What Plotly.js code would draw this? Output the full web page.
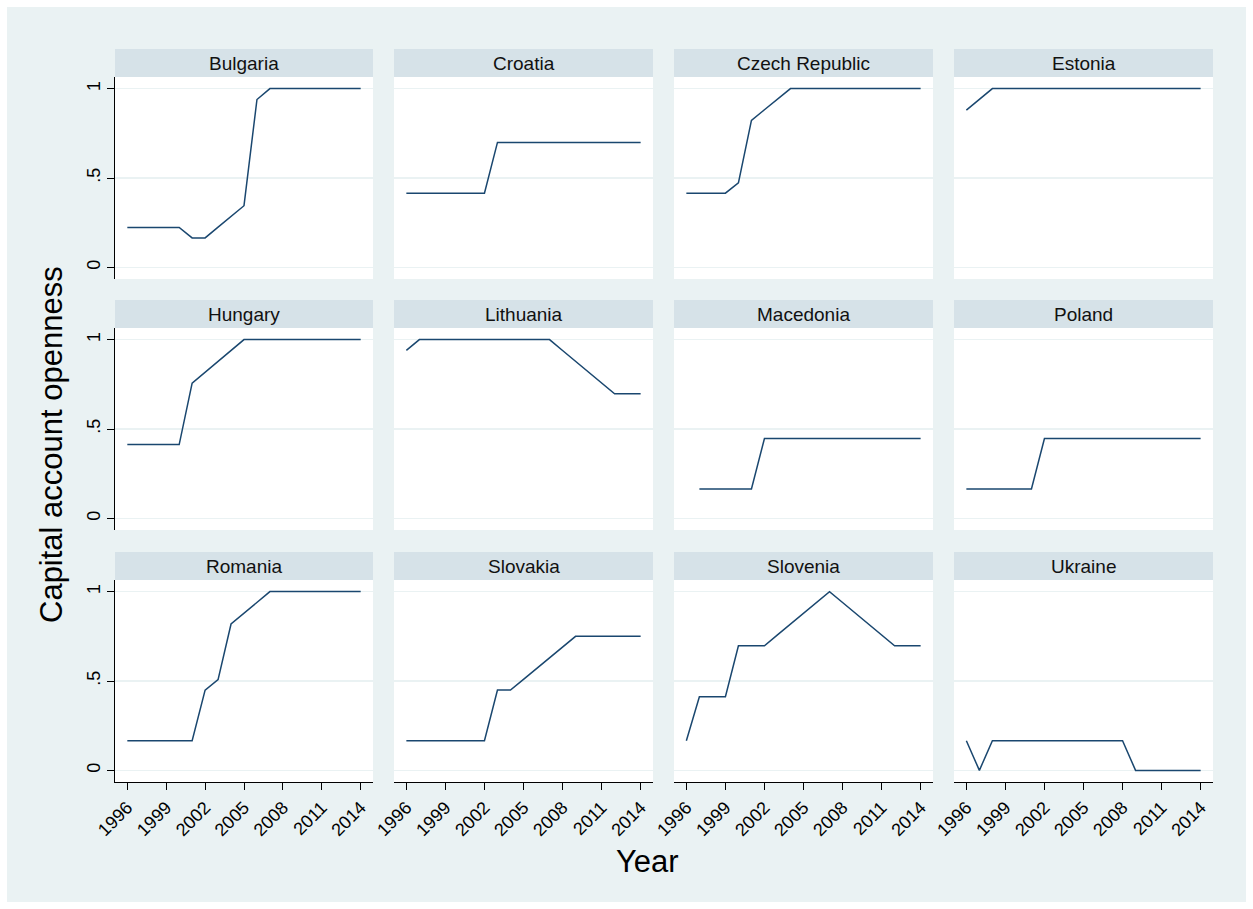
<!DOCTYPE html>
<html><head><meta charset="utf-8">
<script src="https://cdn.plot.ly/plotly-3.0.1.min.js"></script>
<style>html,body{margin:0;padding:0;background:#fff}#chart{width:1253px;height:909px}</style>
</head><body><div id="chart"></div><script>
const years = [1996,1997,1998,1999,2000,2001,2002,2003,2004,2005,2006,2007,2008,2009,2010,2011,2012,2013,2014];
const xTickVals = [1996,1999,2002,2005,2008,2011,2014];
const yTickVals = [0,0.5,1];
const yTickText = ['0','.5','1'];
const countries = ['Bulgaria','Croatia','Czech Republic','Estonia','Hungary','Lithuania','Macedonia','Poland','Romania','Slovakia','Slovenia','Ukraine'];

const bulgaria  = [0.223,0.223,0.223,0.223,0.223,0.165,0.165,0.225,0.285,0.345,0.939,1,1,1,1,1,1,1,1];
const croatia   = [0.415,0.415,0.415,0.415,0.415,0.415,0.415,0.699,0.699,0.699,0.699,0.699,0.699,0.699,0.699,0.699,0.699,0.699,0.699];
const czech     = [0.415,0.415,0.415,0.415,0.473,0.822,0.882,0.941,1,1,1,1,1,1,1,1,1,1,1];
const estonia   = [0.880,0.940,1,1,1,1,1,1,1,1,1,1,1,1,1,1,1,1,1];
const hungary   = [0.413,0.413,0.413,0.413,0.413,0.757,0.818,0.879,0.939,1,1,1,1,1,1,1,1,1,1];
const lithuania = [0.940,1,1,1,1,1,1,1,1,1,1,1,0.939,0.878,0.818,0.757,0.697,0.697,0.697];
const macedonia = [null,0.165,0.165,0.165,0.165,0.165,0.447,0.447,0.447,0.447,0.447,0.447,0.447,0.447,0.447,0.447,0.447,0.447,0.447];
const poland    = [0.165,0.165,0.165,0.165,0.165,0.165,0.447,0.447,0.447,0.447,0.447,0.447,0.447,0.447,0.447,0.447,0.447,0.447,0.447];
const romania   = [0.166,0.166,0.166,0.166,0.166,0.166,0.449,0.508,0.819,0.879,0.940,1,1,1,1,1,1,1,1];
const slovakia  = [0.166,0.166,0.166,0.166,0.166,0.166,0.166,0.449,0.449,0.509,0.570,0.630,0.690,0.750,0.750,0.750,0.750,0.750,0.750];
const slovenia  = [0.166,0.412,0.412,0.412,0.697,0.697,0.697,0.758,0.818,0.879,0.939,1,0.939,0.879,0.818,0.758,0.697,0.697,0.697];
const ukraine   = [0.166,0,0.166,0.166,0.166,0.166,0.166,0.166,0.166,0.166,0.166,0.166,0.166,0,0,0,0,0,0];

const series = [bulgaria,croatia,czech,estonia,hungary,lithuania,macedonia,poland,romania,slovakia,slovenia,ukraine];

const W = 1253, H = 909;
const colX = [[115,373],[394,653],[674,933],[954,1213]];
const rowY = [[77,279],[328,530],[580,782]];
const STRIP = 28;
const FONT = 'Liberation Sans, Arial, Helvetica, sans-serif';

const data = [];
const layout = {
  width: W, height: H,
  margin: {l:0, r:0, t:0, b:0},
  paper_bgcolor: '#eaf2f3',
  plot_bgcolor: '#ffffff',
  showlegend: false,
  font: {family: FONT, color: '#000'},
  shapes: [],
  annotations: []
};

for (let i = 0; i < 12; i++) {
  const r = Math.floor(i / 4), c = i % 4;
  const sfx = i === 0 ? '' : String(i + 1);
  data.push({
    x: years, y: series[i], type: 'scatter', mode: 'lines',
    line: {color: '#1a476f', width: 1.5},
    xaxis: 'x' + sfx, yaxis: 'y' + sfx, connectgaps: false,
    hoverinfo: 'x+y'
  });
  const bottom = r === 2, left = c === 0;
  layout['xaxis' + sfx] = {
    domain: [colX[c][0] / W, colX[c][1] / W],
    anchor: 'y' + sfx,
    range: [1995.05, 2014.95],
    tickvals: xTickVals,
    ticktext: xTickVals.map(String),
    showgrid: false, zeroline: false,
    showline: bottom, linecolor: '#000', linewidth: 1,
    ticks: bottom ? 'outside' : '', ticklen: 7, tickcolor: '#000', tickwidth: 1,
    showticklabels: bottom, tickangle: -45,
    tickfont: {family: FONT, size: 18, color: '#000'},
    fixedrange: true
  };
  layout['yaxis' + sfx] = {
    domain: [1 - rowY[r][1] / H, 1 - rowY[r][0] / H],
    anchor: 'x' + sfx,
    range: [-0.065, 1.065],
    tickvals: yTickVals, ticktext: yTickText,
    showgrid: true, gridcolor: '#eaf2f3', gridwidth: 1.5,
    zeroline: false,
    showline: left, linecolor: '#000', linewidth: 1,
    ticks: left ? 'outside' : '', ticklen: 7, tickcolor: '#000', tickwidth: 1,
    showticklabels: left, tickangle: -90,
    tickfont: {family: FONT, size: 18, color: '#000'},
    fixedrange: true
  };
  // strip
  layout.shapes.push({
    type: 'rect', xref: 'paper', yref: 'paper', layer: 'above',
    x0: colX[c][0] / W, x1: colX[c][1] / W,
    y0: 1 - rowY[r][0] / H, y1: 1 - (rowY[r][0] - STRIP) / H,
    fillcolor: '#d6e2e8', line: {width: 0}
  });
  layout.annotations.push({
    xref: 'paper', yref: 'paper',
    x: (colX[c][0] + colX[c][1]) / 2 / W,
    y: 1 - (rowY[r][0] - STRIP / 2) / H,
    text: countries[i], showarrow: false,
    xanchor: 'center', yanchor: 'middle',
    font: {family: FONT, size: 19, color: '#111'}
  });
}

// white outer frame
layout.shapes.push({
  type: 'rect', xref: 'paper', yref: 'paper', layer: 'above',
  x0: 0, x1: 1, y0: 0, y1: 1,
  fillcolor: 'rgba(0,0,0,0)', line: {color: '#ffffff', width: 14}
});

layout.annotations.push({
  xref: 'paper', yref: 'paper', x: 51 / W, y: 1 - 445 / H,
  text: 'Capital account openness', textangle: -90, showarrow: false,
  xanchor: 'center', yanchor: 'middle',
  font: {family: FONT, size: 31, color: '#000'}
});
layout.annotations.push({
  xref: 'paper', yref: 'paper', x: 647 / W, y: 1 - 861 / H,
  text: 'Year', showarrow: false,
  xanchor: 'center', yanchor: 'middle',
  font: {family: FONT, size: 31, color: '#000'}
});

Plotly.newPlot('chart', data, layout, {displayModeBar: false, staticPlot: true});
</script></body></html>
